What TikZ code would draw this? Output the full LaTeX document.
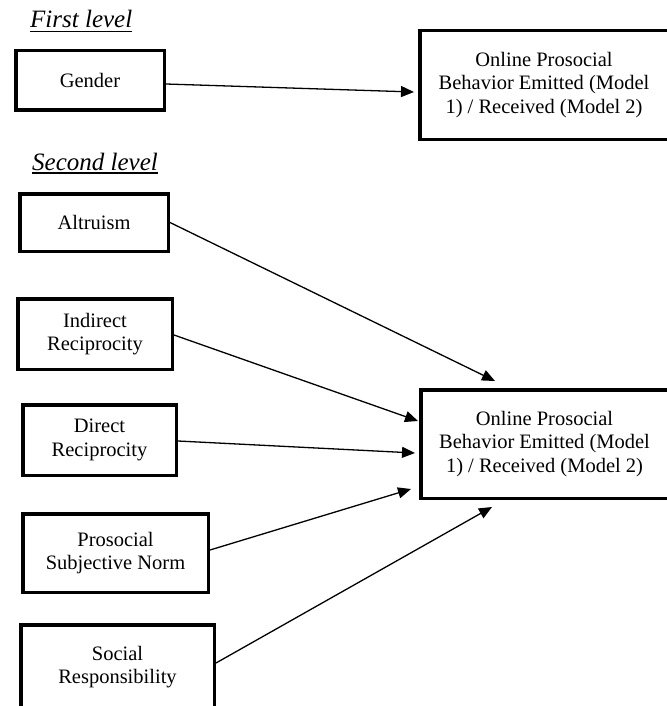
\documentclass[tikz,border=0pt]{standalone}
\usepackage{fontspec}
\setmainfont{Liberation Serif}
\usetikzlibrary{arrows.meta}
\begin{document}
\begin{tikzpicture}[x=1pt,y=-1pt,
  box/.style={draw, line width=3.5pt, align=center, inner sep=0pt, font=\fontsize{20.5}{23.5}\selectfont},
  head/.style={font=\fontsize{25}{28}\selectfont\itshape, inner sep=0pt, anchor=base west},
  conn/.style={line width=1.3pt, -{Triangle[length=13pt,width=11pt]}},
  uline/.style={line width=1.2pt}]
\useasboundingbox (0,0) rectangle (666,706);
% headings
\node[head] (h1) at (30,28) {First level};
\draw[uline] ([yshift=-3.5pt]h1.base west) -- ([yshift=-3.5pt]h1.base east);
\node[head] (h2) at (32,170) {Second level};
\draw[uline] ([yshift=-3pt]h2.base west) -- ([yshift=-3pt]h2.base east);
% boxes
\node[box, minimum width=148.5pt, minimum height=59.5pt] (gender) at (90,80.5) {Gender};
\node[box, minimum width=248.5pt, minimum height=108.5pt] (t1) at (544,85) {Online Prosocial\\Behavior Emitted (Model\\1) / Received (Model 2)};
\node[box, minimum width=148.5pt, minimum height=57.5pt] (alt) at (94,222.5) {Altruism};
\node[box, minimum width=154.5pt, minimum height=70.5pt] (ind) at (95,334) {Indirect\\Reciprocity};
\node[box, minimum width=153.5pt, minimum height=70.5pt] (dir) at (99.5,440) {Direct\\Reciprocity};
\node[box, minimum width=185.5pt, minimum height=78.5pt] (pro) at (115.5,553) {Prosocial\\Subjective Norm};
\node[box, minimum width=193.5pt, minimum height=84.5pt] (soc) at (117.5,667) {Social\\Responsibility};
\node[box, minimum width=247.5pt, minimum height=108.5pt] (t2) at (544.5,444) {Online Prosocial\\Behavior Emitted (Model\\1) / Received (Model 2)};
% arrow end points
\coordinate (e0) at (414,92);
\coordinate (e1) at (495,381);
\coordinate (e2) at (418,421);
\coordinate (e3) at (415,453);
\coordinate (e4) at (411,489);
\coordinate (e5) at (492,507);
% connectors
\draw[conn] ([yshift=-3.5pt]gender.east) -- (e0);
\draw[conn] (alt.east) -- (e1);
\draw[conn] ([yshift=-1pt]ind.east) -- (e2);
\draw[conn] ([yshift=-1pt]dir.east) -- (e3);
\draw[conn] ([yshift=3pt]pro.east) -- (e4);
\draw[conn] ([yshift=4pt]soc.east) -- (e5);
\end{tikzpicture}
\end{document}
